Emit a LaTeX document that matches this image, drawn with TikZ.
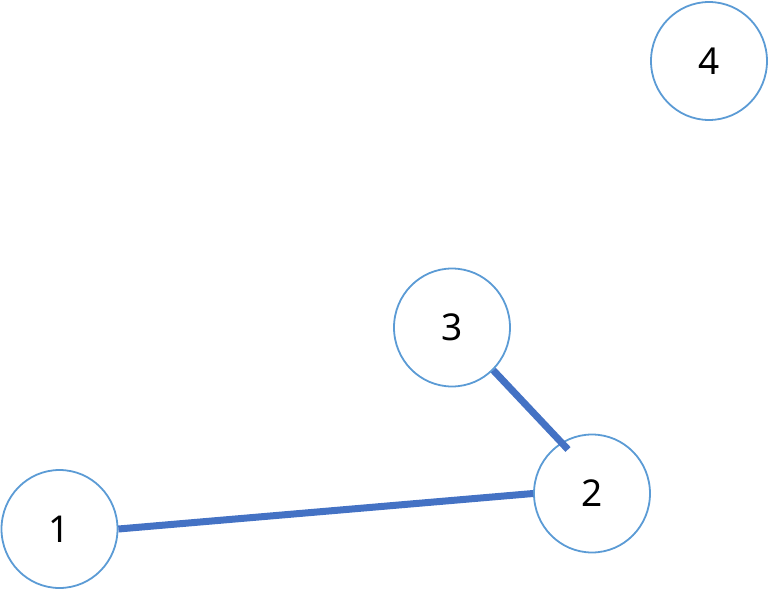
\documentclass[tikz,border=0pt]{standalone}
\usepackage{fontspec}
\setmainfont{Noto Sans}
\usetikzlibrary{shapes.geometric}
\definecolor{ringblue}{HTML}{5B9BD5}
\definecolor{edgeblue}{HTML}{4472C4}
\tikzset{
  vertex/.style={ellipse, draw=ringblue, line width=1.8pt, fill=white,
    minimum width=116pt, minimum height=118pt, inner sep=0pt,
    font=\fontsize{37}{40}\selectfont},
  link/.style={draw=edgeblue, line width=7pt}
}
\begin{document}
\begin{tikzpicture}[x=1pt,y=-1pt]
\useasboundingbox (0,0) rectangle (769,591);
\node[vertex] (n1) at (59.5,529) {1};
\node[vertex] (n2) at (592,493.5) {2};
\node[vertex] (n3) at (452,327.5) {3};
\node[vertex] (n4) at (709,61) {4};
\draw[link] (n1.east) -- (n2.west);
\draw[link] (n3.-46) -- ([shift={(-24,-44)}]n2.center);
\end{tikzpicture}
\end{document}
